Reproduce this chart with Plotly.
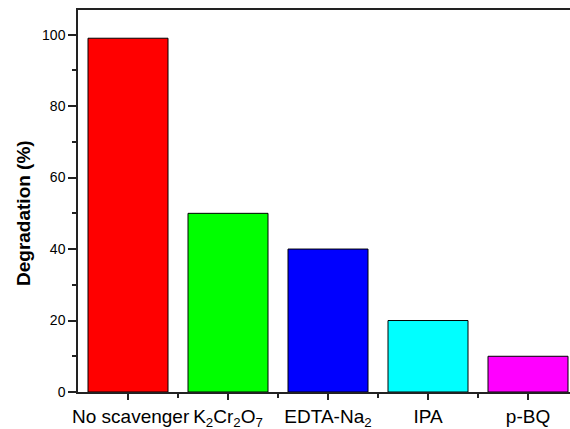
import plotly.graph_objects as go

categories = ["&nbsp;No scavenger", "K<sub>2</sub>Cr<sub>2</sub>O<sub>7</sub>", "EDTA-Na<sub>2</sub>", "IPA", "p-BQ"]
values = [99, 50, 40, 20, 10]
colors = ["#ff0000", "#00ff00", "#0000ff", "#00ffff", "#ff00ff"]
positions = [0, 1, 2, 3, 4]
y_ticks = [0, 20, 40, 60, 80, 100]
y_title = "<b>Degradation (%)</b>"

fig = go.Figure()
fig.add_trace(go.Bar(
    x=positions, y=values, width=0.8,
    marker=dict(color=colors, line=dict(color="black", width=1)),
))

font_family = "Liberation Sans, Arial, sans-serif"
fig.update_layout(
    width=570, height=429,
    margin=dict(l=78, r=0, t=10, b=37),
    plot_bgcolor="white", paper_bgcolor="white",
    showlegend=False,
    font=dict(family=font_family, size=15, color="black"),
    bargap=0.2,
)
fig.update_xaxes(
    range=[-0.5, 4.42],
    tickvals=positions, ticktext=categories, tickangle=0, automargin=False,
    showline=True, linecolor="#222", linewidth=1.5, mirror=True,
    ticks="outside", ticklen=6, tickwidth=1.5, tickcolor="#222",
    minor=dict(tickvals=[0.5, 1.5, 2.5, 3.5], ticks="outside", ticklen=4, tickwidth=1.5, tickcolor="#222"),
    showgrid=False, zeroline=False,
    tickfont=dict(size=19),
)
fig.update_yaxes(
    range=[0, 106.9], automargin=False,
    tickvals=y_ticks,
    showline=True, linecolor="#222", linewidth=1.5,
    ticks="outside", ticklen=8, tickwidth=1.5, tickcolor="#222",
    minor=dict(dtick=10, tick0=0, ticks="outside", ticklen=4, tickwidth=1.5, tickcolor="#222"),
    showgrid=False, zeroline=False,
    tickfont=dict(size=14),
)
fig.add_annotation(
    text=y_title, textangle=-90, showarrow=False,
    xref="paper", yref="paper",
    x=(24 - 78) / 492, y=(392 - 213) / 382,
    xanchor="center", yanchor="middle",
    font=dict(size=19),
)

fig.write_html("out.html")
